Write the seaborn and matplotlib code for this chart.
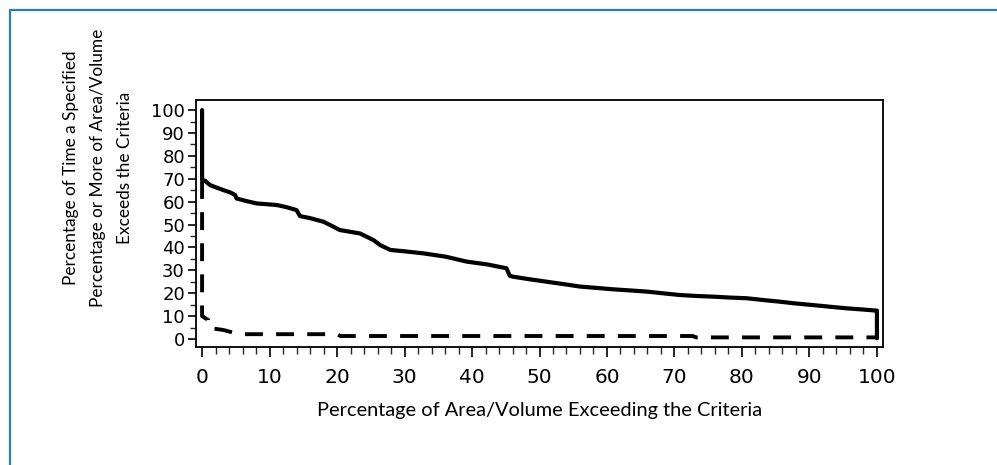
import matplotlib
matplotlib.use("Agg")
import matplotlib.pyplot as plt
from matplotlib.lines import Line2D
from matplotlib.ticker import MultipleLocator
import seaborn as sns
import pandas as pd

# Exceedance curves: percentage of area/volume (x) vs percentage of time (y)
solid_x = [0, 0, 0.4, 1.2, 2.0, 3.2, 4.2, 4.9, 5.1, 6.5, 8.1, 9.5, 11.1, 12.5,
           14.0, 14.5, 16.0, 18.0, 19.5, 20.4, 22.0, 23.4, 25.4, 26.4, 27.9,
           30.0, 32.8, 36.2, 39.2, 42.2, 45.1, 45.6, 46.1, 48.5, 51.1, 53.5,
           56.0, 58.5, 60.9, 63.5, 65.9, 68.5, 70.8, 73.2, 75.7, 78.2, 80.7,
           83.2, 85.6, 88.0, 90.6, 93.0, 95.5, 97.8, 99.9, 100, 100]
solid_y = [100, 69.5, 69.2, 67.2, 66.3, 65.0, 64.0, 62.9, 61.4, 60.3, 59.2,
           58.9, 58.5, 57.6, 56.3, 53.7, 52.8, 51.2, 49.0, 47.6, 46.8, 46.1,
           43.2, 41.0, 38.9, 38.3, 37.4, 35.9, 33.8, 32.6, 30.9, 27.6, 27.2,
           26.1, 25.0, 24.0, 22.9, 22.3, 21.7, 21.2, 20.7, 19.9, 19.2, 18.8,
           18.5, 18.1, 17.8, 17.0, 16.3, 15.5, 14.8, 14.1, 13.4, 12.9, 12.4,
           12.4, 0.3]

dashed_x = [0, 0, 0.9, 0.9, 1.4, 3.2, 4.6, 5.5, 20.0, 20.5, 72.7, 73.2, 100, 100]
dashed_y = [69.0, 10.0, 8.3, 5.5, 4.7, 3.9, 2.8, 2.1, 2.1, 1.3, 1.3, 0.7, 0.7, 0.0]

x_ticks = [0, 10, 20, 30, 40, 50, 60, 70, 80, 90, 100]
y_ticks = [0, 10, 20, 30, 40, 50, 60, 70, 80, 90, 100]

x_label = "Percentage of Area/Volume Exceeding the Criteria"
y_label = ("Percentage of Time a Specified\n"
           "Percentage or More of Area/Volume\n"
           "Exceeds the Criteria")

sns.set_theme(style="ticks")
plt.rcParams["font.family"] = ["DejaVu Sans"]
label_family = ["Lato", "DejaVu Sans"]

fig = plt.figure(figsize=(9.97, 4.65), dpi=100)
fig.patch.set_facecolor("white")

# Thin blue frame along the top and left edges of the figure
frame_color = "#2a7fab"
fig.add_artist(Line2D([10 / 997, 1.0], [1 - 10 / 465, 1 - 10 / 465],
                      transform=fig.transFigure, color=frame_color, lw=1.6))
fig.add_artist(Line2D([10 / 997, 10 / 997], [0.0, 1 - 10 / 465],
                      transform=fig.transFigure, color=frame_color, lw=1.6))

ax = fig.add_axes([196 / 997, 1 - 347 / 465, (883 - 196) / 997, (347 - 100) / 465])

solid = pd.DataFrame({"x": solid_x, "y": solid_y})
dashed = pd.DataFrame({"x": dashed_x, "y": dashed_y})

sns.lineplot(data=dashed, x="x", y="y", ax=ax, sort=False, estimator=None,
             color="black", lw=2.8, linestyle=(0, (4.6, 3.4)))
sns.lineplot(data=solid, x="x", y="y", ax=ax, sort=False, estimator=None,
             color="black", lw=3.0)

ax.set_xlim(-0.9, 100.9)
ax.set_ylim(-3.5, 104.4)
ax.set_xticks(x_ticks)
ax.set_yticks(y_ticks)
ax.set_xticklabels([str(v) for v in x_ticks])
ax.set_yticklabels([str(v) for v in y_ticks])
ax.xaxis.set_minor_locator(MultipleLocator(2))
ax.yaxis.set_minor_locator(MultipleLocator(5))

ax.tick_params(axis="x", which="major", length=7, width=1.2, pad=8,
               labelsize=14.5, colors="black")
ax.tick_params(axis="x", which="minor", length=5, width=1.0)
ax.tick_params(axis="y", which="major", length=6, width=1.2, pad=2,
               labelsize=13, colors="black")
ax.tick_params(axis="y", which="minor", length=4, width=1.0)

for side in ["top", "right", "bottom", "left"]:
    ax.spines[side].set_visible(True)
    ax.spines[side].set_color("black")
    ax.spines[side].set_linewidth(1.3)

ax.set_xlabel(x_label, fontsize=14.4, family=label_family, color="black",
              labelpad=11)
ax.set_ylabel(y_label, fontsize=12.4, family=label_family, color="black",
              ha="center", va="center", multialignment="center",
              linespacing=1.85)
ax.yaxis.set_label_coords((98 - 196) / 687, (347 - 168) / 247)

fig.savefig("out.png", dpi=100, facecolor="white")
